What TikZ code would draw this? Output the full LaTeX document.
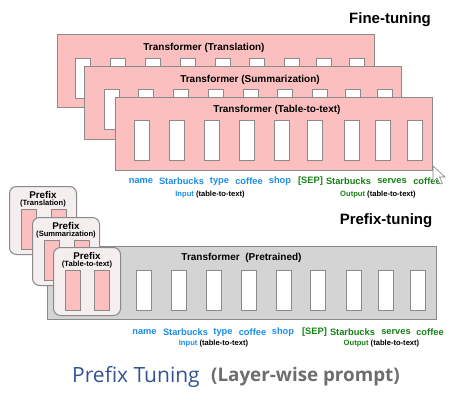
\documentclass[tikz,border=0pt]{standalone}
\usepackage{fontspec}
\setmainfont{Liberation Sans}
\newfontfamily\capfont{Open Sans}
\usetikzlibrary{positioning}
\definecolor{mypink}{RGB}{252,191,191}
\definecolor{mygray}{RGB}{138,138,138}
\definecolor{mylight}{RGB}{244,238,238}
\definecolor{mypre}{RGB}{212,212,212}
\definecolor{myblue}{RGB}{28,140,235}
\definecolor{mygreen}{RGB}{22,128,22}
\definecolor{mycapblue}{RGB}{52,84,145}
\definecolor{mycapgray}{RGB}{110,108,108}
\tikzset{
  tbox/.style={draw=mygray, fill=mypink, line width=1, minimum width=317,
    minimum height=73, inner sep=0, anchor=north west},
  pbox/.style={draw=mygray, fill=mypre, line width=1, minimum width=389,
    minimum height=73, inner sep=0, anchor=north west},
  prefixbox/.style={draw=mygray, fill=mylight, line width=1, rounded corners=7,
    minimum width=67, minimum height=68, inner sep=0, anchor=north west},
  cell/.style={draw=mygray, fill=white, line width=0.8, minimum width=15,
    minimum height=40, inner sep=0, anchor=north west},
  pinkcell/.style={cell, fill=mypink},
  title/.style={font=\fontsize{10}{12}\selectfont\bfseries, inner sep=0},
  heading/.style={font=\fontsize{15}{18}\selectfont\bfseries, inner sep=0},
  word/.style={font=\fontsize{9.3}{11}\selectfont\bfseries, inner sep=0},
  small/.style={font=\fontsize{7.6}{9}\selectfont\bfseries, inner sep=0},
  ptitle/.style={font=\fontsize{9.8}{11}\selectfont\bfseries, inner sep=0},
  psub/.style={font=\fontsize{7.6}{9}\selectfont\bfseries, inner sep=0}
}
\begin{document}
\begin{tikzpicture}[x=1pt,y=-1pt]
\useasboundingbox (0,0) rectangle (459,415);

\node [heading] (finetuning) at (390,20) {Fine-tuning};

% Fine-tuning: Translation
\node [tbox] (translation) at (57,34) {};
\node [title] (translationtitle) at (204,48) {Transformer (Translation)};
\node [cell] (ta1) at (75,58) {};
\node [cell] (ta2) at (110,58) {};
\node [cell] (ta3) at (145,58) {};
\node [cell] (ta4) at (180,58) {};
\node [cell] (ta5) at (215,58) {};
\node [cell] (ta6) at (249,58) {};
\node [cell] (ta7) at (284,58) {};
\node [cell] (ta8) at (316,58) {};
\node [cell] (ta9) at (349,58) {};

% Fine-tuning: Summarization
\node [tbox] (summarization) at (84,66) {};
\node [title] (summarizationtitle) at (250,80) {Transformer (Summarization)};
\node [cell] (tb1) at (104,89) {};
\node [cell] (tb2) at (138,89) {};
\node [cell] (tb3) at (173,89) {};
\node [cell] (tb4) at (208,89) {};
\node [cell] (tb5) at (243,89) {};
\node [cell] (tb6) at (277,89) {};
\node [cell] (tb7) at (312,89) {};
\node [cell] (tb8) at (345,89) {};
\node [cell] (tb9) at (377,89) {};

% Fine-tuning: Table-to-text
\node [tbox] (tabletotext) at (115,97) {};
\node [title] (tabletotexttitle) at (277,110) {Transformer (Table-to-text)};
\node [cell] (tc1) at (134,120) {};
\node [cell] (tc2) at (169,120) {};
\node [cell] (tc3) at (204,120) {};
\node [cell] (tc4) at (239,120) {};
\node [cell] (tc5) at (274,120) {};
\node [cell] (tc6) at (307,120) {};
\node [cell] (tc7) at (344,120) {};
\node [cell] (tc8) at (375,120) {};
\node [cell] (tc9) at (407,120) {};

\node [word, color=myblue] (fw1) at (141,181) {name};
\node [word, color=myblue] (fw2) at (181.5,181) {Starbucks};
\node [word, color=myblue] (fw3) at (219.5,181) {type};
\node [word, color=myblue] (fw4) at (249,181) {coffee};
\node [word, color=myblue] (fw5) at (280,181) {shop};
\node [word, color=mygreen] (fw6) at (310.5,181) {[SEP]};
\node [word, color=mygreen] (fw7) at (348.5,181) {Starbucks};
\node [word, color=mygreen] (fw8) at (392,181) {serves};
\node [word, color=mygreen] (fw9) at (427,181) {coffee};
\node [small] (finput) at (210,195) {\textcolor{myblue}{Input} (table-to-text)};
\node [small] (foutput) at (378,195) {\textcolor{mygreen}{Output} (table-to-text)};

% mouse pointer
\draw [fill=white, draw=gray, line width=0.6] (433,166) -- (433,182) -- (437,178)
  -- (440,184) -- (442.5,183) -- (439.5,177) -- (445,177) -- cycle;

\node [heading] (prefixtuning) at (386,221) {Prefix-tuning};

% Prefix-tuning
\node [pbox] (pretrained) at (47,246) {};
\node [title] (pretrainedtitle) at (241.5,258) {Transformer~~(Pretrained)};
\node [cell] (pc1) at (136,270) {};
\node [cell] (pc2) at (171,270) {};
\node [cell] (pc3) at (206,270) {};
\node [cell] (pc4) at (241,270) {};
\node [cell] (pc5) at (276,270) {};
\node [cell] (pc6) at (310,270) {};
\node [cell] (pc7) at (346,270) {};
\node [cell] (pc8) at (378,270) {};
\node [cell] (pc9) at (410,270) {};

\node [prefixbox] (prefixa) at (9,186) {};
\node [ptitle] (prefixatitle) at (43,195) {Prefix};
\node [psub] (prefixasub) at (43,204) {(Translation)};
\node [pinkcell] (paa) at (21,209) {};
\node [pinkcell] (pab) at (51,209) {};

\node [prefixbox] (prefixb) at (32,217) {};
\node [ptitle] (prefixbtitle) at (66,226) {Prefix};
\node [psub] (prefixbsub) at (66,235) {(Summarization)};
\node [pinkcell] (pba) at (44,240) {};
\node [pinkcell] (pbb) at (74,240) {};

\node [prefixbox] (prefixc) at (53,247) {};
\node [ptitle] (prefixctitle) at (87,256) {Prefix};
\node [psub] (prefixcsub) at (87,265) {(Table-to-text)};
\node [pinkcell] (pca) at (65,270) {};
\node [pinkcell] (pcb) at (94,270) {};

\node [word, color=myblue] (pw1) at (144.5,332) {name};
\node [word, color=myblue] (pw2) at (185.5,332) {Starbucks};
\node [word, color=myblue] (pw3) at (223,332) {type};
\node [word, color=myblue] (pw4) at (252.5,332) {coffee};
\node [word, color=myblue] (pw5) at (283,332) {shop};
\node [word, color=mygreen] (pw6) at (314.5,332) {[SEP]};
\node [word, color=mygreen] (pw7) at (352.5,332) {Starbucks};
\node [word, color=mygreen] (pw8) at (396,332) {serves};
\node [word, color=mygreen] (pw9) at (430,332) {coffee};
\node [small] (pinput) at (213.5,344) {\textcolor{myblue}{Input} (table-to-text)};
\node [small] (poutput) at (381.5,344) {\textcolor{mygreen}{Output} (table-to-text)};

\node [inner sep=0, anchor=west, color=mycapblue, font=\capfont\fontsize{21}{24}\selectfont]
  (caption) at (72,377) {Prefix Tuning};
\node [inner sep=0, anchor=west, color=mycapgray, font=\capfont\fontsize{18.8}{22}\selectfont\bfseries]
  (captionsub) at (211,377) {(Layer-wise prompt)};

\end{tikzpicture}
\end{document}
